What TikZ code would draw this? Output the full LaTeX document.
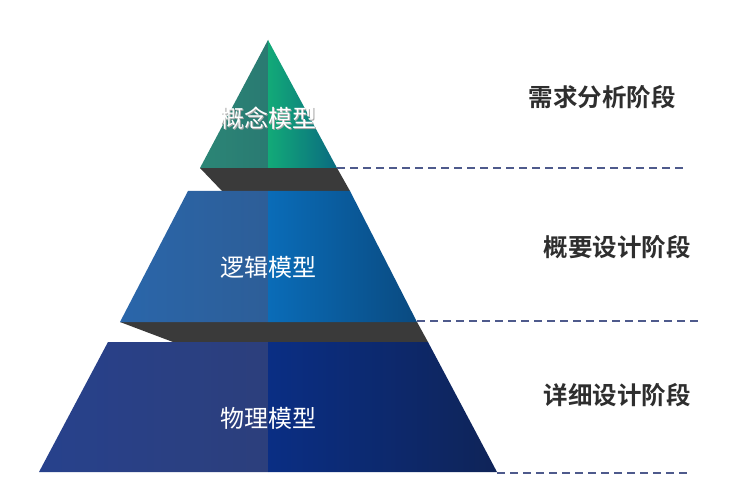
\documentclass[tikz,border=0pt]{standalone}
\usepackage{fontspec}
\newfontfamily\cjk{Noto Sans CJK SC}
\newfontfamily\cjkbold{Noto Sans CJK SC Bold}
\definecolor{shadowgray}{HTML}{3A3A3A}
\definecolor{dashcol}{HTML}{4E5A8C}
\definecolor{stagetext}{HTML}{2E2E2E}
\definecolor{gA}{HTML}{2B8676}
\definecolor{gB}{HTML}{2A7A72}
\definecolor{gC}{HTML}{12AA78}
\definecolor{gD}{HTML}{0A6A80}
\definecolor{mA}{HTML}{2A66AA}
\definecolor{mB}{HTML}{2D5E98}
\definecolor{mC}{HTML}{0A6CB8}
\definecolor{mD}{HTML}{0A4A80}
\definecolor{bA}{HTML}{27418C}
\definecolor{bB}{HTML}{2C3F7C}
\definecolor{bC}{HTML}{0A2E84}
\definecolor{bD}{HTML}{0F2458}
\tikzset{
  stagelabel/.style={font=\cjkbold\fontsize{24.5}{28}\selectfont, text=stagetext, inner sep=0pt},
  layerlabel/.style={font=\cjk\fontsize{24}{28}\selectfont, text=white, inner sep=0pt},
  stageline/.style={draw=dashcol, line width=1.1pt, dash pattern=on 8pt off 5pt},
}
\begin{document}
\begin{tikzpicture}[x=1pt,y=-1pt]
\useasboundingbox[fill=white] (0,0) rectangle (729,500);
% shadows
\fill[shadowgray] (200,168) -- (337,168) -- (350,191) -- (222,191) -- cycle;
\fill[shadowgray] (120,322) -- (417,322) -- (428,342) -- (173,342) -- cycle;
% top triangle
\shade[left color=gA, right color=gB] (268,40) -- (268,168) -- (200,168) -- cycle;
\shade[left color=gC, right color=gD] (268,40) -- (337,168) -- (268,168) -- cycle;
% middle trapezoid
\shade[left color=mA, right color=mB] (188,191) -- (268,191) -- (268,322) -- (120,322) -- cycle;
\shade[left color=mC, right color=mD] (268,191) -- (350,191) -- (417,322) -- (268,322) -- cycle;
% bottom trapezoid
\shade[left color=bA, right color=bB] (108,342) -- (268,342) -- (268,472) -- (39,472) -- cycle;
\shade[left color=bC, right color=bD] (268,342) -- (428,342) -- (497,472) -- (268,472) -- cycle;
% layer labels
\node[layerlabel, text=gray!70] at (269,119) {概念模型};
\node[layerlabel] (concept) at (268,118) {概念模型};
\node[layerlabel] (logic) at (268,267) {逻辑模型};
\node[layerlabel] (physical) at (268,418) {物理模型};
% stage labels
\node[stagelabel] (req) at (602,97) {需求分析阶段};
\node[stagelabel] (outline) at (617,247) {概要设计阶段};
\node[stagelabel] (detail) at (617,395) {详细设计阶段};
% dashed lines
\coordinate (l1a) at (337,168); \coordinate (l1b) at (687,168);
\coordinate (l2a) at (417,321); \coordinate (l2b) at (699,321);
\coordinate (l3a) at (497,473); \coordinate (l3b) at (687,473);
\draw[stageline] (l1a) -- (l1b);
\draw[stageline] (l2a) -- (l2b);
\draw[stageline] (l3a) -- (l3b);
\end{tikzpicture}
\end{document}
